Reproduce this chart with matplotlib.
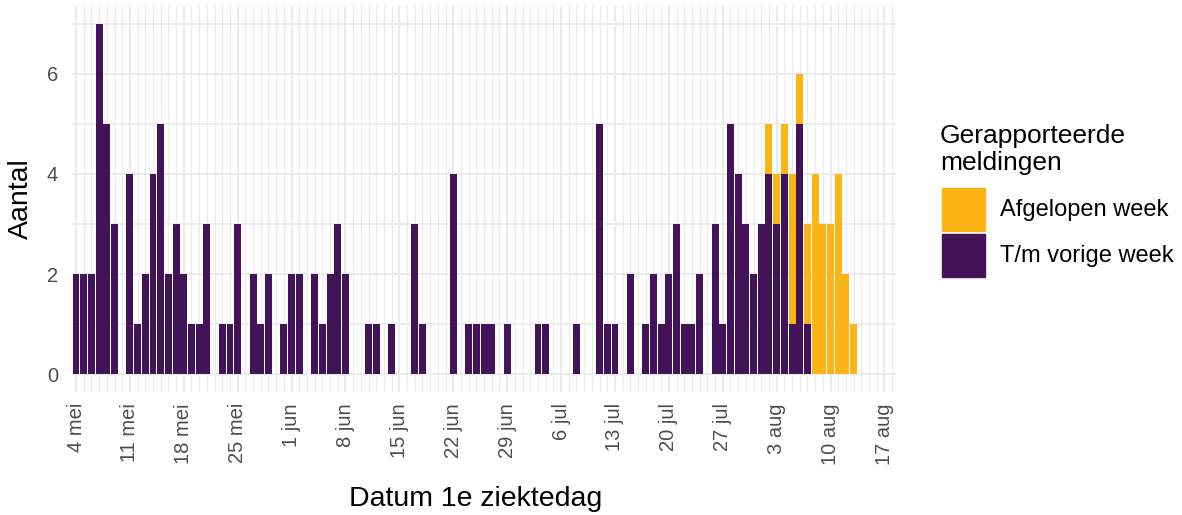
import matplotlib

matplotlib.use("Agg")
import matplotlib.pyplot as plt
import matplotlib.dates as mdates
from matplotlib.patches import Rectangle
from matplotlib.ticker import MultipleLocator
import pandas as pd

plt.rcParams["font.family"] = ["Liberation Sans", "DejaVu Sans"]

# daily counts starting at 4 mei
start_date = "2020-05-04"
tm_vorige_week = [
    2, 2, 2, 7, 5, 3, 0, 4, 1, 2, 4, 5, 2, 3, 2, 1, 1, 3, 0, 1,
    1, 3, 0, 2, 1, 2, 0, 1, 2, 2, 0, 2, 1, 2, 3, 2, 0, 0, 1, 1,
    0, 1, 0, 0, 3, 1, 0, 0, 0, 4, 0, 1, 1, 1, 1, 0, 1, 0, 0, 0,
    1, 1, 0, 0, 0, 1, 0, 0, 5, 1, 1, 0, 2, 0, 1, 2, 1, 2, 3, 1,
    1, 2, 0, 3, 1, 5, 4, 3, 2, 3, 4, 3, 4, 1, 5, 1, 0, 0, 0, 0,
    0, 0,
]
afgelopen_week = [
    0, 0, 0, 0, 0, 0, 0, 0, 0, 0, 0, 0, 0, 0, 0, 0, 0, 0, 0, 0,
    0, 0, 0, 0, 0, 0, 0, 0, 0, 0, 0, 0, 0, 0, 0, 0, 0, 0, 0, 0,
    0, 0, 0, 0, 0, 0, 0, 0, 0, 0, 0, 0, 0, 0, 0, 0, 0, 0, 0, 0,
    0, 0, 0, 0, 0, 0, 0, 0, 0, 0, 0, 0, 0, 0, 0, 0, 0, 0, 0, 0,
    0, 0, 0, 0, 0, 0, 0, 0, 0, 0, 1, 1, 1, 3, 1, 2, 4, 3, 3, 4,
    2, 1,
]
tick_dates = [
    "2020-05-04", "2020-05-11", "2020-05-18", "2020-05-25", "2020-06-01",
    "2020-06-08", "2020-06-15", "2020-06-22", "2020-06-29", "2020-07-06",
    "2020-07-13", "2020-07-20", "2020-07-27", "2020-08-03", "2020-08-10",
    "2020-08-17",
]
tick_labels = [
    "4 mei", "11 mei", "18 mei", "25 mei", "1 jun", "8 jun", "15 jun",
    "22 jun", "29 jun", "6 jul", "13 jul", "20 jul", "27 jul", "3 aug",
    "10 aug", "17 aug",
]
legend_labels = ["Afgelopen week", "T/m vorige week"]

PURPLE = "#43135A"
YELLOW = "#FDB515"
GRID = "#EBEBEB"
W, H = 1182, 515

dates = pd.date_range(start_date, periods=len(tm_vorige_week), freq="D")
x = mdates.date2num(dates)
ticks = mdates.date2num(pd.to_datetime(tick_dates))

fig = plt.figure(figsize=(W / 100, H / 100), dpi=100)
ax = fig.add_axes([72 / W, 1 - 392 / H, 824 / W, 386 / H])

ax.bar(x, tm_vorige_week, width=0.9, color=PURPLE, linewidth=0)
ax.bar(x, afgelopen_week, width=0.9, bottom=tm_vorige_week, color=YELLOW, linewidth=0)

ax.set_xlim(x[0] - 0.52, x[0] + 106.5)
ax.set_ylim(-0.35, 7.35)
ax.set_xticks(ticks)
ax.set_xticklabels(tick_labels, rotation=90, ha="center", va="top")
ax.xaxis.set_minor_locator(mdates.DayLocator())
ax.set_yticks([0, 2, 4, 6])
ax.yaxis.set_minor_locator(MultipleLocator(1))

ax.set_axisbelow(True)
ax.grid(which="major", color=GRID, linewidth=1.5)
ax.grid(which="minor", axis="y", color=GRID, linewidth=1.3)
ax.grid(which="minor", axis="x", color=GRID, linewidth=0.8)
for s in ax.spines.values():
    s.set_visible(False)
ax.tick_params(which="both", length=0)
ax.tick_params(axis="x", labelsize=14.5, labelcolor="#4D4D4D", pad=8)
ax.tick_params(axis="y", labelsize=14.5, labelcolor="#4D4D4D", pad=10)

# axis titles
fig.text(476 / W, 1 - 506 / H, "Datum 1e ziektedag", fontsize=20.5,
         ha="center", va="baseline")
fig.text(21 / W, 1 - 199 / H, "Aantal", fontsize=20.5, rotation=90,
         ha="center", va="center")

# legend, drawn by hand to match the ggplot guide
fig.text(940 / W, 1 - 143 / H, "Gerapporteerde", fontsize=19, va="baseline")
fig.text(940 / W, 1 - 170 / H, "meldingen", fontsize=19, va="baseline")
for i, (lab, col) in enumerate(zip(legend_labels, [YELLOW, PURPLE])):
    top = 188 + i * 46
    fig.patches.append(Rectangle((942 / W, 1 - (top + 43) / H), 43 / W, 43 / H,
                                 transform=fig.transFigure, color=col))
    fig.text(1000 / W, 1 - (top + 22) / H, lab, fontsize=17, va="center")

fig.savefig("out.png", dpi=100)
